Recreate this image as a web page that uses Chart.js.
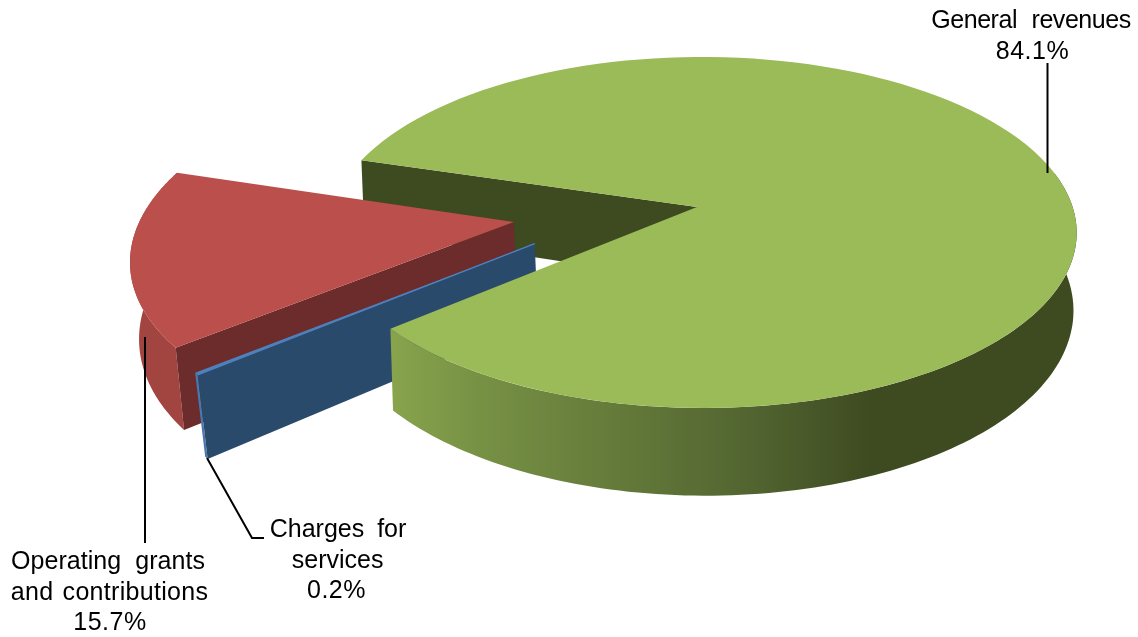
<!DOCTYPE html>
<html><head><meta charset="utf-8">
<style>html,body{margin:0;padding:0;background:#fff;overflow:hidden}canvas{display:block}</style>
<script src="https://cdn.jsdelivr.net/npm/chart.js@4"></script>
</head><body><canvas id="c" width="1138" height="637" style="width:1138px;height:637px"></canvas>
<script>
const categories = ['General revenues', 'Charges for services', 'Operating grants and contributions'];
const shares = [84.1, 0.2, 15.7];
const labelLines = [['General revenues'], ['Charges for', 'services'], ['Operating grants', 'and contributions']];
const topColors = ['#9bbb59', '#4f81bd', '#bb4f4c'];
const sideColors = ['#3e4a20', '#2a4a6b', '#6b2c2b'];
const rimColors = [null, '#4a78ad', '#a2443f'];

// pie-plane projection (styling of the 3-D look, not data)
const view = {cx: 697, cy: 207, rx: 370, ry: 171.8, k: 0.145, m: 0.015, depth: 75};
const explode = [[0, 0], [-0.4282, 0.2083], [-0.4926, 0.0862]];
const radial = [1, 1.02, 1.03];
const baseShrink = [0.0085, 0.02, 0.016];
// text placement: x centre, baseline y, word spacing, letter spacing
const textRows = [
  [[1031, 28, 8, -0.45]],
  [[338, 537, 6, 0], [337.6, 568, 0, 0]],
  [[108, 569, 7, 0.05], [109.5, 600, 2, 0.3]]
];
const pctRows = [[1032.5, 59], [336.5, 598], [110, 630]];
const leaders = [
  [[1047.5, 63], [1047.5, 173]],
  [[207, 458], [252, 538], [264, 538]],
  [[145, 337], [145, 543]]
];

function P(i, a, r, z) {
  const rr = r * radial[i];
  const u = explode[i][0] + rr * Math.cos(a), v = explode[i][1] + rr * Math.sin(a);
  const w = 1 - view.k * v - view.m * u;
  let x = view.cx + view.rx * u / w;
  const y = view.cy + (view.ry * v + view.depth * z) / w;
  x += (view.cx - x) * baseShrink[i] * z;
  return [x, y];
}
function poly(ctx, pts, fill) {
  ctx.beginPath();
  pts.forEach((p, n) => n ? ctx.lineTo(p[0], p[1]) : ctx.moveTo(p[0], p[1]));
  ctx.closePath();
  ctx.fillStyle = fill;
  ctx.fill();
}
function arcPts(i, a0, a1, z) {
  const out = [], n = 120;
  for (let s = 0; s <= n; s++) out.push(P(i, a0 + (a1 - a0) * s / n, 1, z));
  return out;
}
function topFace(ctx, i, arc) {
  poly(ctx, [P(i, 0, 0, 0)].concat(arcPts(i, arc.startAngle, arc.endAngle, 0)), arc.options.backgroundColor);
}
function rim(ctx, i, a0, a1, fill) {
  poly(ctx, arcPts(i, a0, a1, 0).concat(arcPts(i, a1, a0, 1)), fill);
}
function face(ctx, i, a, fill) {
  poly(ctx, [P(i, a, 0, 0), P(i, a, 1, 0), P(i, a, 1, 1), P(i, a, 0, 1)], fill);
}

const pie3d = {
  id: 'pie3d',
  beforeDatasetsDraw(chart) {
    const ctx = chart.ctx, arcs = chart.getDatasetMeta(0).data;
    const [green, blue, red] = arcs;
    ctx.save();
    face(ctx, 0, green.startAngle, sideColors[0]);
    rim(ctx, 2, red.startAngle, red.endAngle, rimColors[2]);
    face(ctx, 2, red.startAngle, sideColors[2]);
    topFace(ctx, 2, red);
    rim(ctx, 1, blue.startAngle, blue.endAngle, rimColors[1]);
    face(ctx, 1, blue.startAngle, sideColors[1]);
    topFace(ctx, 1, blue);
    ctx.strokeStyle = topColors[1];
    ctx.lineWidth = 1.5;
    ctx.beginPath();
    const b0 = P(1, 0, 0, 0), b1 = P(1, blue.startAngle, 1, 0);
    ctx.moveTo(b0[0], b0[1]); ctx.lineTo(b1[0], b1[1]); ctx.stroke();
    const g = ctx.createLinearGradient(395, 0, 1077, 0);
    g.addColorStop(0, '#87a34c');
    g.addColorStop(0.13, '#769044');
    g.addColorStop(0.38, '#5f7437');
    g.addColorStop(0.52, '#526531');
    g.addColorStop(0.70, '#3e4a20');
    g.addColorStop(1, '#3e4a20');
    rim(ctx, 0, -0.2, green.endAngle - 2 * Math.PI, g);
    topFace(ctx, 0, green);
    ctx.restore();
    return false;
  },
  afterDraw(chart) {
    const ctx = chart.ctx;
    ctx.save();
    ctx.strokeStyle = '#000';
    ctx.lineWidth = 2;
    leaders.forEach(l => {
      ctx.beginPath();
      l.forEach((p, n) => n ? ctx.lineTo(p[0], p[1]) : ctx.moveTo(p[0], p[1]));
      ctx.stroke();
    });
    ctx.fillStyle = '#000';
    ctx.font = '25px "Liberation Sans"';
    ctx.textAlign = 'center';
    ctx.textBaseline = 'alphabetic';
    labelLines.forEach((lines, i) => {
      lines.forEach((t, n) => {
        const r = textRows[i][n];
        ctx.wordSpacing = r[2] + 'px';
        ctx.letterSpacing = r[3] + 'px';
        ctx.fillText(t, r[0], r[1]);
      });
      ctx.wordSpacing = '0px';
      ctx.letterSpacing = '0.5px';
      ctx.fillText(shares[i].toFixed(1) + '%', pctRows[i][0], pctRows[i][1]);
    });
    ctx.restore();
  }
};

new Chart(document.getElementById('c'), {
  type: 'pie',
  data: {labels: categories, datasets: [{data: shares, backgroundColor: topColors, borderWidth: 0}]},
  options: {
    responsive: false,
    animation: false,
    rotation: 286.7,
    plugins: {legend: {display: false}, tooltip: {enabled: false}}
  },
  plugins: [pie3d]
});
</script></body></html>
